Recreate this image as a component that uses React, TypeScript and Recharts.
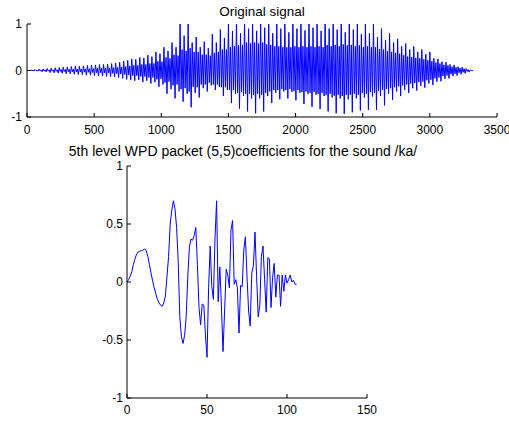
import { LineChart, Line, XAxis, YAxis } from "recharts";

// top panel: speech signal, read per 30-sample cycle as
// big peak, inner dip, inner rise, big trough (7.5 samples apart)
const cycleLength = 30;
const upperPeaks = [
  0.005, 0.012, 0.02, 0.03, 0.032, 0.042, 0.05, 0.058, 0.065, 0.07,
  0.078, 0.085, 0.09, 0.095, 0.1, 0.108, 0.118, 0.12, 0.128, 0.13,
  0.138, 0.148, 0.16, 0.18, 0.2, 0.22, 0.25, 0.24, 0.28, 0.27,
  0.33, 0.3, 0.4, 0.36, 0.5, 0.42, 0.6, 0.5, 1.05, 0.75,
  1.02, 0.6, 0.72, 0.5, 0.62, 0.48, 0.78, 0.6, 0.88, 0.7,
  1.05, 0.85, 1.1, 0.8, 1.08, 0.9, 1.1, 0.85, 1.05, 0.92,
  1.1, 0.8, 1.05, 0.9, 1.08, 0.82, 1.1, 0.9, 1.05, 0.86,
  1.1, 0.92, 1.06, 0.85, 1.1, 0.9, 1.05, 0.88, 1.08, 0.82,
  1.02, 0.88, 1.05, 0.78, 1.02, 0.8, 1.0, 0.72, 0.9, 0.65,
  0.8, 0.6, 0.68, 0.52, 0.58, 0.45, 0.52, 0.4, 0.45, 0.35,
  0.4, 0.26, 0.25, 0.19, 0.18, 0.13, 0.12, 0.08, 0.07, 0.04,
  0.01,
];
const innerDips = [
  -0.001, -0.003, -0.005, -0.008, -0.01, -0.012, -0.015, -0.017, -0.02, -0.022,
  -0.025, -0.028, -0.03, -0.032, -0.035, -0.038, -0.042, -0.045, -0.048, -0.05,
  -0.055, -0.06, -0.065, -0.075, -0.085, -0.095, -0.11, -0.11, -0.13, -0.13,
  -0.15, -0.15, -0.19, -0.18, -0.26, -0.24, -0.32, -0.3, -0.4, -0.38,
  -0.45, -0.35, -0.36, -0.3, -0.3, -0.26, -0.3, -0.3, -0.36, -0.36,
  -0.42, -0.42, -0.48, -0.46, -0.5, -0.5, -0.52, -0.5, -0.52, -0.48,
  -0.45, -0.42, -0.42, -0.4, -0.42, -0.4, -0.44, -0.42, -0.46, -0.45,
  -0.48, -0.46, -0.5, -0.48, -0.52, -0.5, -0.54, -0.52, -0.55, -0.52,
  -0.52, -0.5, -0.52, -0.48, -0.5, -0.46, -0.48, -0.44, -0.42, -0.4,
  -0.38, -0.36, -0.34, -0.32, -0.3, -0.28, -0.27, -0.25, -0.24, -0.21,
  -0.2, -0.17, -0.15, -0.12, -0.11, -0.08, -0.07, -0.05, -0.04, -0.02,
  0,
];
const innerRises = [
  0.001, 0.003, 0.005, 0.008, 0.01, 0.012, 0.015, 0.017, 0.02, 0.022,
  0.025, 0.028, 0.03, 0.032, 0.035, 0.038, 0.042, 0.045, 0.048, 0.05,
  0.055, 0.06, 0.065, 0.075, 0.085, 0.095, 0.11, 0.11, 0.13, 0.13,
  0.15, 0.15, 0.2, 0.19, 0.28, 0.26, 0.34, 0.32, 0.45, 0.42,
  0.48, 0.4, 0.4, 0.34, 0.34, 0.32, 0.38, 0.4, 0.45, 0.45,
  0.5, 0.52, 0.55, 0.55, 0.6, 0.58, 0.6, 0.58, 0.6, 0.56,
  0.55, 0.52, 0.52, 0.5, 0.5, 0.5, 0.52, 0.5, 0.52, 0.5,
  0.52, 0.5, 0.52, 0.5, 0.55, 0.52, 0.55, 0.52, 0.56, 0.54,
  0.55, 0.52, 0.54, 0.5, 0.52, 0.5, 0.5, 0.46, 0.45, 0.42,
  0.4, 0.38, 0.36, 0.33, 0.3, 0.29, 0.27, 0.26, 0.24, 0.22,
  0.2, 0.17, 0.15, 0.12, 0.11, 0.08, 0.07, 0.05, 0.04, 0.02,
  0,
];
const lowerTroughs = [
  -0.005, -0.01, -0.015, -0.028, -0.03, -0.045, -0.05, -0.055, -0.06, -0.068,
  -0.075, -0.08, -0.088, -0.09, -0.1, -0.1, -0.11, -0.118, -0.12, -0.128,
  -0.13, -0.14, -0.15, -0.17, -0.19, -0.2, -0.22, -0.2, -0.25, -0.22,
  -0.28, -0.25, -0.35, -0.3, -0.5, -0.4, -0.6, -0.45, -0.67, -0.5,
  -0.79, -0.48, -0.58, -0.38, -0.45, -0.32, -0.42, -0.35, -0.55, -0.42,
  -0.7, -0.5, -0.82, -0.55, -0.88, -0.6, -0.92, -0.6, -0.88, -0.55,
  -0.7, -0.48, -0.62, -0.45, -0.6, -0.46, -0.64, -0.48, -0.72, -0.5,
  -0.78, -0.52, -0.83, -0.55, -0.88, -0.58, -0.92, -0.6, -0.93, -0.62,
  -0.9, -0.6, -0.86, -0.58, -0.85, -0.56, -0.85, -0.55, -0.75, -0.5,
  -0.63, -0.45, -0.55, -0.42, -0.48, -0.38, -0.43, -0.33, -0.37, -0.28,
  -0.31, -0.24, -0.23, -0.18, -0.17, -0.12, -0.11, -0.08, -0.06, -0.035,
  0,
];
const signalTicksX = [0, 500, 1000, 1500, 2000, 2500, 3000, 3500];
const signalTicksY = [-1, 0, 1];

// bottom panel: WPD packet (5,5) coefficients
const wpdCoeffs = [
  0.0, 0.02, 0.05, 0.09, 0.15, 0.2, 0.24, 0.26, 0.265, 0.27,
  0.275, 0.285, 0.27, 0.22, 0.15, 0.08, 0.01, -0.05, -0.1, -0.15,
  -0.18, -0.2, -0.21, -0.18, -0.12, 0.05, 0.22, 0.5, 0.62, 0.7,
  0.63, 0.47, 0.18, -0.3, -0.47, -0.53, -0.46, -0.3, 0.05, 0.3,
  0.37, 0.36, 0.4, 0.47, 0.15, -0.22, -0.37, -0.19, -0.2, -0.45,
  -0.65, -0.05, 0.31, -0.04, -0.15, 0.38, 0.7, -0.17, 0.13, -0.2,
  -0.6, -0.25, 0.11, 0.06, -0.05, 0.45, 0.53, -0.02, 0.02, -0.05,
  -0.44, -0.03, -0.04, 0.28, 0.39, 0.05, -0.25, -0.38, 0.08, 0.14,
  0.43, 0.05, -0.3, -0.2, 0.22, 0.31, 0.02, -0.26, 0.21, 0.2,
  -0.22, 0.04, 0.16, -0.13, 0.06, 0.06, -0.21, 0.06, -0.08, 0.06,
  -0.01, 0.02, 0.06, 0.0, 0.015, -0.02, -0.02,
];
const wpdTicksX = [0, 50, 100, 150];
const wpdTicksY = [-1, -0.5, 0, 0.5, 1];

const signalData: { s: number; v: number }[] = [];
upperPeaks.forEach((up, k) => {
  const s0 = k * cycleLength;
  signalData.push({ s: s0, v: up });
  signalData.push({ s: s0 + cycleLength / 4, v: innerDips[k] });
  signalData.push({ s: s0 + cycleLength / 2, v: innerRises[k] });
  signalData.push({ s: s0 + (cycleLength * 3) / 4, v: lowerTroughs[k] });
});
const wpdData = wpdCoeffs.map((v, n) => ({ n, v }));

const font = "'Liberation Sans', Arial, sans-serif";
const tickStyle = { fontSize: 12, fill: "#000", fontFamily: font };
const blank = () => "";

const titleStyle = {
  position: "absolute" as const,
  fontFamily: font,
  color: "#000",
  transform: "translate(-50%, -50%)",
  whiteSpace: "nowrap" as const,
};

export default function App() {
  return (
    <div style={{ position: "absolute", left: 0, top: 0, width: 509, height: 422, background: "#fff" }}>
      <div style={{ ...titleStyle, fontSize: 13.5, left: 262, top: 11 }}>Original signal</div>
      <div style={{ ...titleStyle, fontSize: 14, left: 243, top: 151 }}>
        5th level WPD packet (5,5)coefficients for the sound /ka/
      </div>

      <div style={{ position: "absolute", left: 0, top: 0 }}>
        <LineChart width={509} height={145} data={signalData} margin={{ top: 24, right: 12, left: 0, bottom: 0 }}>
          <XAxis dataKey="s" type="number" domain={[0, 3500]} ticks={signalTicksX} interval={0}
            height={28} tickSize={-4} tickMargin={12} tick={tickStyle} stroke="#000" />
          <XAxis xAxisId="top" orientation="top" type="number" domain={[0, 3500]} ticks={signalTicksX}
            interval={0} height={0} tickSize={-4} tickFormatter={blank} stroke="#000" />
          <YAxis type="number" domain={[-1, 1]} ticks={signalTicksY} interval={0} allowDataOverflow
            width={27} tickSize={-4} tickMargin={9} tick={tickStyle} stroke="#000" />
          <YAxis yAxisId="right" orientation="right" type="number" domain={[-1, 1]} ticks={signalTicksY}
            interval={0} width={0} tickSize={-4} tickFormatter={blank} stroke="#000" />
          <Line dataKey="v" type="linear" stroke="#0000ff" strokeWidth={1} dot={false} isAnimationActive={false} />
        </LineChart>
      </div>

      <div style={{ position: "absolute", left: 0, top: 0 }}>
        <LineChart width={509} height={422} data={wpdData} margin={{ top: 166, right: 142, left: 87, bottom: 0 }}>
          <XAxis dataKey="n" type="number" domain={[0, 150]} ticks={wpdTicksX} interval={0}
            height={24} tickSize={-4} tickMargin={11} tick={tickStyle} stroke="#000" />
          <XAxis xAxisId="top" orientation="top" type="number" domain={[0, 150]} ticks={wpdTicksX}
            interval={0} height={0} tickSize={-4} tickFormatter={blank} stroke="#000" />
          <YAxis type="number" domain={[-1, 1]} ticks={wpdTicksY} interval={0}
            width={40} tickSize={-4} tickMargin={8} tick={tickStyle} stroke="#000" />
          <YAxis yAxisId="right" orientation="right" type="number" domain={[-1, 1]} ticks={wpdTicksY}
            interval={0} width={0} tickSize={-4} tickFormatter={blank} stroke="#000" />
          <Line dataKey="v" type="linear" stroke="#0000ff" strokeWidth={1} dot={false} isAnimationActive={false} />
        </LineChart>
      </div>
    </div>
  );
}
